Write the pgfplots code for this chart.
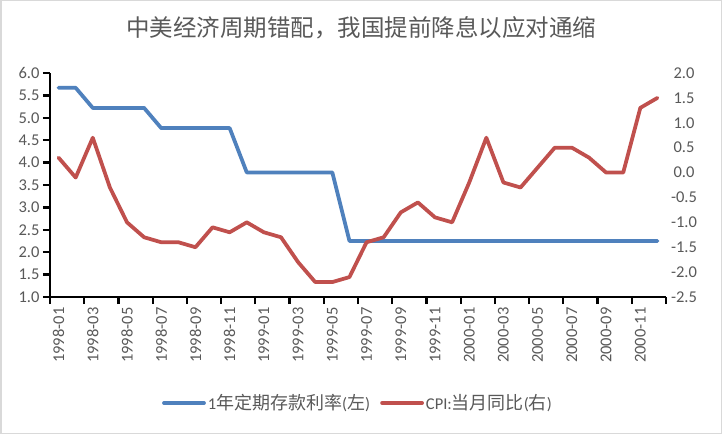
\documentclass[border=0pt]{standalone}
\usepackage{pgfplots}
\pgfplotsset{compat=1.18}
\usepackage{fontspec}
\setmainfont{Carlito}
\newfontfamily\cjk{Noto Sans CJK SC}
\definecolor{txt}{HTML}{595959}
\definecolor{sblue}{HTML}{4F81BD}
\definecolor{sred}{HTML}{C0504D}
\definecolor{bord}{HTML}{D9D9D9}
\begin{document}
\begin{tikzpicture}
\useasboundingbox (0,0) rectangle (722pt,434pt);
\fill[white] (0,0) rectangle (722pt,434pt);
\draw[bord, line width=1.5pt] (0.75pt,0.75pt) rectangle (721.25pt,433.25pt);
\node[text=txt, font=\cjk\fontsize{23.5}{26}\selectfont] at (361pt,406pt) {中美经济周期错配，我国提前降息以应对通缩};
\begin{axis}[
  at={(50pt,137pt)}, anchor=south west,
  scale only axis, width=616pt, height=224pt,
  xmin=-0.5, xmax=35.5, ymin=1, ymax=6,
  axis x line*=bottom, axis y line*=left,
  axis line style={-, black, line width=2.25pt},
  /pgf/number format/assume math mode=true,
  tick align=outside, major tick length=7pt, minor tick length=7pt,
  tick style={black, line width=2.25pt},
  ytick={1,1.5,2,2.5,3,3.5,4,4.5,5,5.5,6},
  yticklabel style={/pgf/number format/fixed, /pgf/number format/fixed zerofill, /pgf/number format/precision=1, text=txt, font=\fontsize{16.5}{18}\selectfont},
  xtick={0,2,...,34},
  xticklabels={1998-01,1998-03,1998-05,1998-07,1998-09,1998-11,1999-01,1999-03,1999-05,1999-07,1999-09,1999-11,2000-01,2000-03,2000-05,2000-07,2000-09,2000-11},
  major x tick style={draw=none},
  minor xtick={-0.5,1.5,...,35.5},
  minor x tick style={black, line width=2.25pt},
  xticklabel style={rotate=90, anchor=east, text=txt, font=\fontsize{16.5}{18}\selectfont},
]
\addplot[sblue, line width=3.75pt, line cap=round, line join=round] coordinates {
(0,5.67)(1,5.67)(2,5.22)(3,5.22)(4,5.22)(5,5.22)(6,4.77)(7,4.77)(8,4.77)(9,4.77)(10,4.77)
(11,3.78)(12,3.78)(13,3.78)(14,3.78)(15,3.78)(16,3.78)
(17,2.25)(18,2.25)(19,2.25)(20,2.25)(21,2.25)(22,2.25)(23,2.25)(24,2.25)(25,2.25)(26,2.25)
(27,2.25)(28,2.25)(29,2.25)(30,2.25)(31,2.25)(32,2.25)(33,2.25)(34,2.25)(35,2.25)};
\end{axis}
\begin{axis}[
  at={(50pt,137pt)}, anchor=south west,
  scale only axis, width=616pt, height=224pt,
  xmin=-0.5, xmax=35.5, ymin=-2.5, ymax=2,
  axis x line=none, axis y line*=right,
  y axis line style={draw=none},
  ytick style={draw=none},
  /pgf/number format/assume math mode=true,
  ytick={-2.5,-2,-1.5,-1,-0.5,0,0.5,1,1.5,2},
  yticklabel style={/pgf/number format/fixed, /pgf/number format/fixed zerofill, /pgf/number format/precision=1, text=txt, font=\fontsize{16.5}{18}\selectfont, anchor=center, xshift=18pt},
  legend style={at={(0.5,-0.473)}, anchor=center, draw=none, fill=none, legend columns=2,
    font=\fontsize{16.5}{18}\selectfont, text=txt,
    /tikz/every even column/.append style={column sep=8pt}},
  legend image code/.code={\draw[#1, line width=3.75pt, line cap=round] (0pt,0pt) -- (40pt,0pt);},
]
\addlegendimage{sblue}
\addlegendentry{1{\cjk\fontsize{18}{20}\selectfont 年定期存款利率}({\cjk\fontsize{18}{20}\selectfont 左})}
\addplot[sred, line width=3.75pt, line cap=round, line join=round] coordinates {
(0,0.3)(1,-0.1)(2,0.7)(3,-0.3)(4,-1.0)(5,-1.3)(6,-1.4)(7,-1.4)(8,-1.5)(9,-1.1)(10,-1.2)(11,-1.0)
(12,-1.2)(13,-1.3)(14,-1.8)(15,-2.2)(16,-2.2)(17,-2.1)(18,-1.4)(19,-1.3)(20,-0.8)(21,-0.6)(22,-0.9)(23,-1.0)
(24,-0.2)(25,0.7)(26,-0.2)(27,-0.3)(28,0.1)(29,0.5)(30,0.5)(31,0.3)(32,0.0)(33,0.0)(34,1.3)(35,1.5)};
\addlegendentry{CPI:{\cjk\fontsize{18}{20}\selectfont 当月同比}({\cjk\fontsize{18}{20}\selectfont 右})}
\end{axis}
\end{tikzpicture}
\end{document}
